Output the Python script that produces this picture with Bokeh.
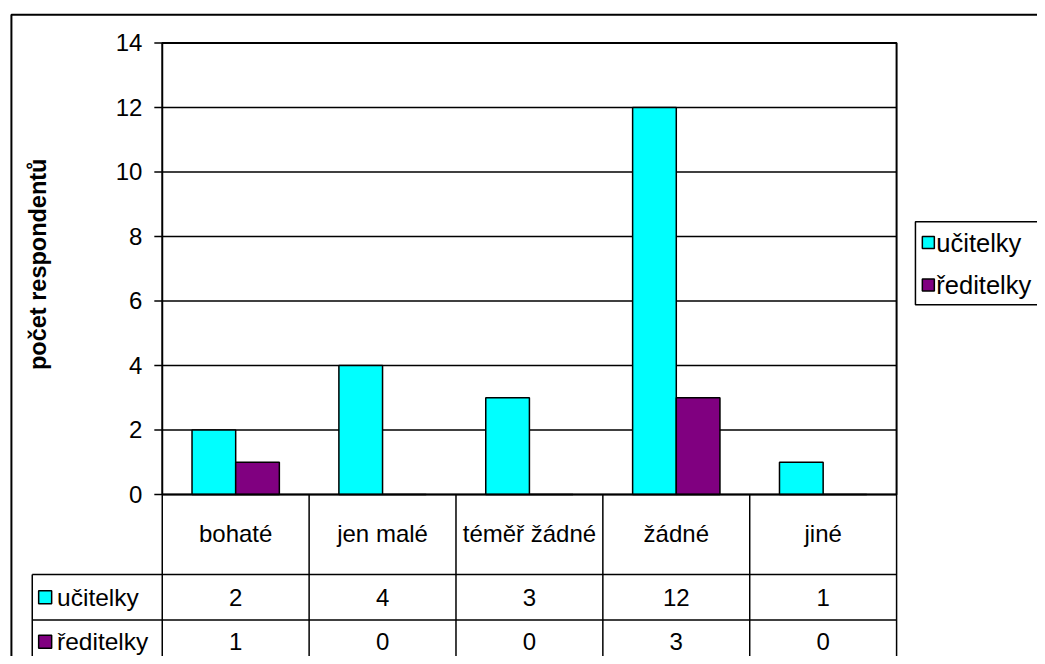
import math
from bokeh.plotting import figure
from bokeh.models import Range1d
from bokeh.core.properties import value
from bokeh.embed import file_html
from bokeh.resources import INLINE

# ---- data ----
categories = ["bohaté", "jen malé", "téměř žádné", "žádné", "jiné"]
series_names = ["učitelky", "ředitelky"]
ucitelky = [2, 4, 3, 12, 1]
reditelky = [1, 0, 0, 3, 0]
yticks = [0, 2, 4, 6, 8, 10, 12, 14]
y_label = "počet respondentů"
colors = ["#00FFFF", "#800080"]

# ---- layout ----
W, H = 1037, 656               # canvas size
RW, RH = 1045.0, 664.0         # layout reference box (scaled onto canvas)
X0, XS = 163.0, 148.0          # layout px of x=0, px per category
Y0, YS = 500.0, 457.0 / 14.0   # layout px of y=0, px per unit
FONT = "Liberation Sans"
FS = "24px"


def dx(px):
    return (px - X0) / XS


def dy(py):
    return (Y0 - py) / YS


p = figure(width=W, height=H, output_backend="svg", toolbar_location=None,
           x_range=Range1d(dx(0), dx(RW)), y_range=Range1d(dy(RH), dy(0)),
           x_axis_type=None, y_axis_type=None, min_border=0)
p.outline_line_color = None
p.background_fill_color = "white"
p.border_fill_color = "white"
p.grid.visible = False

n = len(categories)
ymax = yticks[-1]

# outer chart border
p.quad(left=[dx(11)], right=[dx(RW + 60)], top=[dy(14.5)], bottom=[dy(RH + 60)],
       fill_color=None, line_color="black", line_width=2)

# gridlines
p.segment(x0=[0] * len(yticks), x1=[n] * len(yticks), y0=yticks, y1=yticks,
          line_color="black", line_width=1.3)

# bars
bw = 44.0 / XS
off1 = 52.0 / XS
off2 = 96.0 / XS
p.vbar(x=[i + off1 for i in range(n)], top=ucitelky, bottom=0, width=bw,
       fill_color=colors[0], line_color="black", line_width=1.5)
p.vbar(x=[i + off2 for i in range(n)], top=reditelky, bottom=0, width=bw,
       fill_color=colors[1], line_color="black", line_width=1.5)

# plot area border
p.quad(left=[0], right=[n], bottom=[0], top=[ymax], fill_color=None,
       line_color="black", line_width=2)

# y ticks and labels
p.segment(x0=[dx(155)] * len(yticks), x1=[0] * len(yticks), y0=yticks, y1=yticks,
          line_color="black", line_width=1.5)
p.text(x=[dx(143)] * len(yticks), y=yticks, text=[str(t) for t in yticks],
       text_align="right", text_baseline="middle", text_font=value(FONT),
       text_font_size=FS, text_color="black")

# y axis title
p.text(x=[dx(38)], y=[dy(267)], text=[y_label], angle=math.pi / 2,
       text_align="center", text_baseline="middle", text_font=value(FONT),
       text_font_size="23.5px", text_font_style="bold", text_color="black")

# ---- data table ----
row1_top, row2_top = 581.0, 627.0
bottom_px = RH + 60
# vertical category lines
p.segment(x0=list(range(n + 1)), x1=list(range(n + 1)),
          y0=[0] * (n + 1), y1=[dy(bottom_px)] * (n + 1),
          line_color="black", line_width=1.5)
# left edge of row-label column
p.segment(x0=[dx(32)], x1=[dx(32)], y0=[dy(row1_top)], y1=[dy(bottom_px)],
          line_color="black", line_width=1.5)
# horizontal row lines
p.segment(x0=[dx(32)] * 2, x1=[n] * 2, y0=[dy(row1_top), dy(row2_top)],
          y1=[dy(row1_top), dy(row2_top)], line_color="black", line_width=1.5)

# category labels
p.text(x=[i + 0.5 for i in range(n)], y=[dy(540)] * n, text=categories,
       text_align="center", text_baseline="middle", text_font=value(FONT),
       text_font_size=FS, text_color="black")

# values
row_y = [dy(604), dy(649)]
for vals, yy in zip([ucitelky, reditelky], row_y):
    p.text(x=[i + 0.5 for i in range(n)], y=[yy] * n, text=[str(v) for v in vals],
           text_align="center", text_baseline="middle", text_font=value(FONT),
           text_font_size=FS, text_color="black")

# row labels with keys
p.scatter(x=[dx(45)] * 2, y=row_y, marker="square", size=13,
          fill_color=colors, line_color="black", line_width=1.5)
p.text(x=[dx(57)] * 2, y=row_y, text=series_names, text_align="left",
       text_baseline="middle", text_font=value(FONT), text_font_size="24.5px",
       text_color="black")

# ---- legend ----
p.quad(left=[dx(922)], right=[dx(RW + 60)], top=[dy(224)], bottom=[dy(308)],
       fill_color="white", line_color="black", line_width=1.5)
leg_y = [dy(245), dy(288)]
p.scatter(x=[dx(935)] * 2, y=leg_y, marker="square", size=12,
          fill_color=colors, line_color="black", line_width=1.5)
p.text(x=[dx(943)] * 2, y=leg_y, text=series_names, text_align="left",
       text_baseline="middle", text_font=value(FONT), text_font_size="25.5px",
       text_color="black")

open("out.html", "w").write(file_html(p, INLINE))
